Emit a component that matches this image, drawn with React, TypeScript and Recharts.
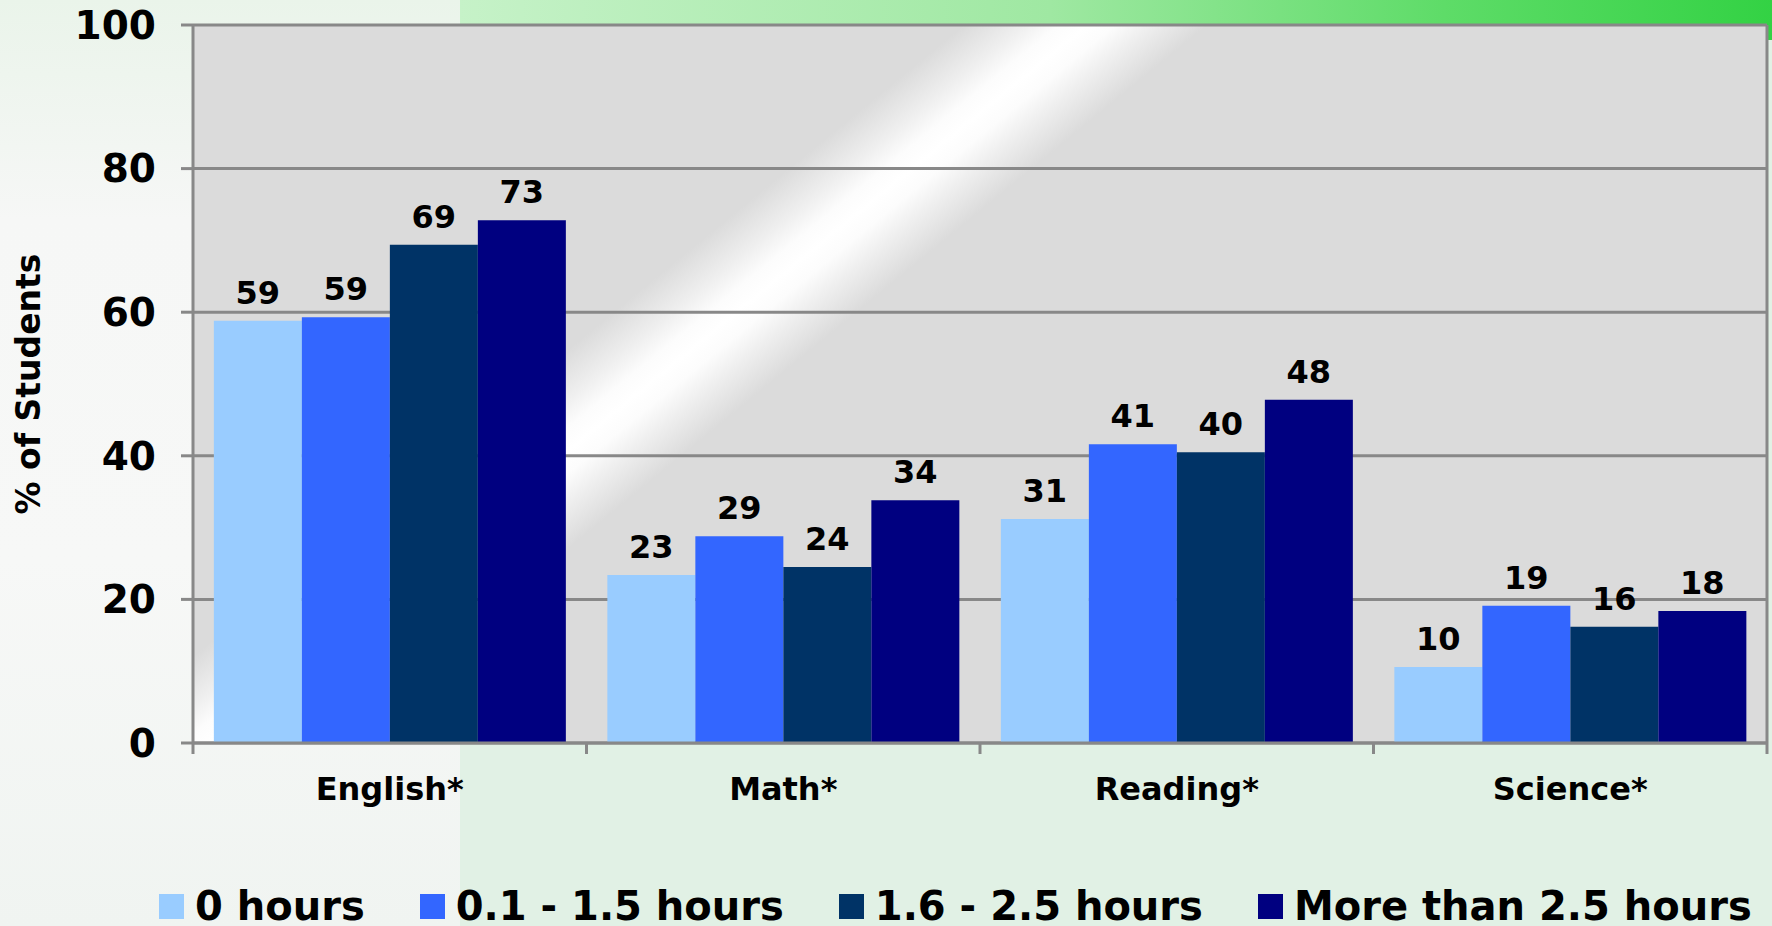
import React from 'react';
import { BarChart, Bar, XAxis, YAxis, CartesianGrid, LabelList } from 'recharts';

const categories = ['English*', 'Math*', 'Reading*', 'Science*'];
const seriesNames = ['0 hours', '0.1 - 1.5 hours', '1.6 - 2.5 hours', 'More than 2.5 hours'];
const seriesColors = ['#99CCFF', '#3366FF', '#003366', '#000080'];

const hours0 = [58.8, 23.4, 31.2, 10.6];
const hours0to15 = [59.3, 28.8, 41.6, 19.1];
const hours16to25 = [69.4, 24.5, 40.5, 16.2];
const hoursOver25 = [72.8, 33.8, 47.8, 18.4];

const labels0 = [59, 23, 31, 10];
const labels0to15 = [59, 29, 41, 19];
const labels16to25 = [69, 24, 40, 16];
const labelsOver25 = [73, 34, 48, 18];

const yTicks = [0, 20, 40, 60, 80, 100];

const values = [hours0, hours0to15, hours16to25, hoursOver25];
const labels = [labels0, labels0to15, labels16to25, labelsOver25];

const data = categories.map((c, i) => {
  const row: Record<string, string | number> = { name: c };
  values.forEach((v, s) => {
    row['v' + s] = v[i];
    row['l' + s] = labels[s][i];
  });
  return row;
});

const FONT = '"DejaVu Sans", Verdana, sans-serif';
const X_TICK_SIZE = 10;
const X_TICK_MARGIN = 24;

const CategoryTick = (props: any) => {
  const { x, y, payload, index, visibleTicksCount } = props;
  const half = payload && typeof payload.offset === 'number' ? payload.offset : 0;
  const axisY = y - X_TICK_SIZE - X_TICK_MARGIN;
  const isLast = index === (visibleTicksCount ?? categories.length) - 1;
  return (
    <g>
      <line x1={x - half} x2={x - half} y1={axisY} y2={axisY + X_TICK_SIZE + 1} stroke="#888888" strokeWidth={3} />
      {isLast && (
        <line x1={x + half} x2={x + half} y1={axisY} y2={axisY + X_TICK_SIZE + 1} stroke="#888888" strokeWidth={3} />
      )}
      <text
        x={x}
        y={y}
        dy="0.71em"
        textAnchor="middle"
        fontSize={32}
        fontWeight="bold"
        fill="#000"
        fontFamily={FONT}
      >
        {payload.value}
      </text>
    </g>
  );
};

export default function App() {
  return (
    <div
      style={{
        position: 'absolute',
        left: 0,
        top: 0,
        width: 1772,
        height: 926,
        overflow: 'hidden',
        fontFamily: FONT,
        background: 'linear-gradient(to bottom, #eaf4ea 0px, #f6f7f6 220px, #f7f8f7 560px, #f0f4f1 926px)',
      }}
    >
      <div
        style={{
          position: 'absolute',
          left: 460,
          top: 0,
          width: 1312,
          height: 926,
          background: '#e1f1e5',
        }}
      />
      <div
        style={{
          position: 'absolute',
          left: 460,
          top: 0,
          width: 1312,
          height: 40,
          background: 'linear-gradient(to right, #c6f2c8 0%, #9fe8a2 45%, #5edc68 75%, #33d244 100%)',
        }}
      />
      <div style={{ position: 'absolute', left: 0, top: 0 }}>
        <BarChart
          width={1772}
          height={926}
          data={data}
          margin={{ top: 25, right: 4, left: 0, bottom: 182 }}
          barCategoryGap="5.3%"
          barGap={0}
        >
          <defs>
            <linearGradient id="sheen" gradientUnits="userSpaceOnUse" x1={0} y1={0} x2={1268} y2={1548}>
              <stop offset="0" stopColor="#dbdbdb" />
              <stop offset="0.315" stopColor="#dbdbdb" />
              <stop offset="0.334" stopColor="#efefef" />
              <stop offset="0.345" stopColor="#fcfcfc" />
              <stop offset="0.354" stopColor="#ffffff" />
              <stop offset="0.363" stopColor="#fcfcfc" />
              <stop offset="0.374" stopColor="#efefef" />
              <stop offset="0.392" stopColor="#dbdbdb" />
              <stop offset="1" stopColor="#dbdbdb" />
            </linearGradient>
          </defs>
          <CartesianGrid vertical={false} stroke="#888888" strokeWidth={3} fill="url(#sheen)" fillOpacity={1} />
          <XAxis
            dataKey="name"
            height={1}
            axisLine={{ stroke: '#888888', strokeWidth: 3 }}
            tickLine={false}
            tickSize={X_TICK_SIZE}
            tickMargin={X_TICK_MARGIN}
            interval={0}
            tick={CategoryTick}
          />
          <YAxis
            type="number"
            domain={[0, 100]}
            ticks={yTicks}
            width={193}
            tickSize={12}
            tickMargin={25}
            axisLine={{ stroke: '#888888', strokeWidth: 3 }}
            tickLine={{ stroke: '#888888', strokeWidth: 3 }}
            tick={{ fontSize: 39, fontWeight: 'bold', fill: '#000', fontFamily: FONT }}
            label={{
              value: '% of Students',
              angle: -90,
              position: 'insideLeft',
              offset: 28,
              style: { textAnchor: 'middle', fontSize: 33, fontWeight: 'bold', fill: '#000', fontFamily: FONT },
            }}
          />
          <YAxis
            yAxisId="right"
            orientation="right"
            type="number"
            domain={[0, 100]}
            width={1}
            tick={false}
            tickLine={false}
            axisLine={{ stroke: '#888888', strokeWidth: 3 }}
          />
          {seriesNames.map((n, s) => (
            <Bar key={n} dataKey={'v' + s} name={n} fill={seriesColors[s]} isAnimationActive={false}>
              <LabelList
                dataKey={'l' + s}
                position="top"
                offset={17}
                style={{ fontSize: 32, fontWeight: 'bold', fill: '#000', fontFamily: FONT }}
              />
            </Bar>
          ))}
        </BarChart>
      </div>
      <div
        style={{
          position: 'absolute',
          left: 159,
          top: 886,
          display: 'flex',
          alignItems: 'center',
          whiteSpace: 'nowrap',
          fontFamily: FONT,
          fontWeight: 'bold',
          fontSize: 40,
          lineHeight: '40px',
          color: '#000',
        }}
      >
        {seriesNames.map((n, s) => (
          <div
            key={n}
            style={{ display: 'flex', alignItems: 'center', marginRight: s < seriesNames.length - 1 ? 55 : 0 }}
          >
            <div style={{ width: 25, height: 25, background: seriesColors[s], marginRight: 11 }} />
            <span>{n}</span>
          </div>
        ))}
      </div>
    </div>
  );
}
